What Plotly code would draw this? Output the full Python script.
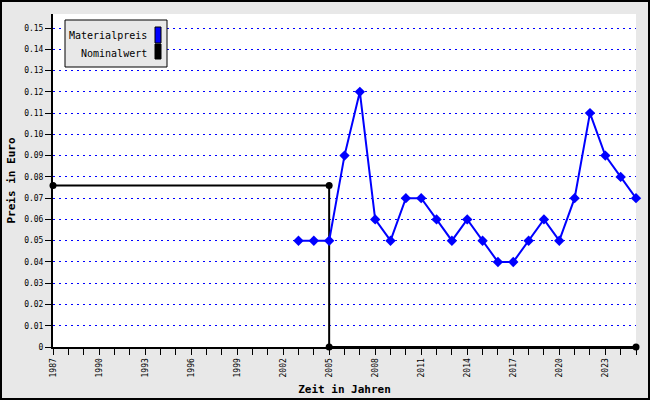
import plotly.graph_objects as go

years_mat = [2003, 2004, 2005, 2006, 2007, 2008, 2009, 2010, 2011, 2012, 2013, 2014,
             2015, 2016, 2017, 2018, 2019, 2020, 2021, 2022, 2023, 2024, 2025]
preis_mat = [0.05, 0.05, 0.05, 0.09, 0.12, 0.06, 0.05, 0.07, 0.07, 0.06, 0.05, 0.06,
             0.05, 0.04, 0.04, 0.05, 0.06, 0.05, 0.07, 0.11, 0.09, 0.08, 0.07]
years_nom = [1987, 2005, 2005, 2025]
preis_nom = [0.076, 0.076, 0, 0]

x_ticks = list(range(1987, 2026))
x_labels = [str(y) if (y - 1987) % 3 == 0 else "" for y in x_ticks]
y_ticks = [round(i * 0.01, 2) for i in range(0, 16)]
y_labels = ["0"] + ["%.2f" % v for v in y_ticks[1:]]

W, H = 650, 400
L, R, T, B = 53, 14, 14, 53
PW, PH = W - L - R, H - T - B

def px(x):
    return (x - L) / PW

def py(y):
    return (H - B - y) / PH

mono = "DejaVu Sans Mono"

fig = go.Figure()
fig.add_trace(go.Scatter(x=years_nom, y=preis_nom, mode="lines+markers", name="Nominalwert",
                         line=dict(color="black", width=2),
                         marker=dict(symbol="circle", size=7, color="black"),
                         cliponaxis=False))
fig.add_trace(go.Scatter(x=years_mat, y=preis_mat, mode="lines+markers", name="Materialpreis",
                         line=dict(color="#0000ff", width=2),
                         marker=dict(symbol="diamond", size=8, color="#0000ff"),
                         cliponaxis=False))

shapes = [
    dict(type="rect", xref="paper", yref="paper", x0=px(1), x1=px(649), y0=py(1), y1=py(399),
         line=dict(color="black", width=2), fillcolor="rgba(0,0,0,0)", layer="above"),
    dict(type="rect", xref="paper", yref="paper", x0=px(65), x1=px(167), y0=py(20), y1=py(67),
         line=dict(color="black", width=1), fillcolor="#e8e8e8", layer="above"),
    dict(type="rect", xref="paper", yref="paper", x0=px(155), x1=px(161), y0=py(27), y1=py(43),
         line=dict(color="black", width=1), fillcolor="#0000ff", layer="above"),
    dict(type="rect", xref="paper", yref="paper", x0=px(155), x1=px(161), y0=py(44), y1=py(59),
         line=dict(color="black", width=1), fillcolor="black", layer="above"),
]
annotations = [
    dict(text="Materialpreis", xref="paper", yref="paper", x=px(149), y=py(36),
         xanchor="right", yanchor="middle", showarrow=False,
         font=dict(family=mono, size=10, color="black")),
    dict(text="Nominalwert", xref="paper", yref="paper", x=px(149), y=py(53),
         xanchor="right", yanchor="middle", showarrow=False,
         font=dict(family=mono, size=10, color="black")),
]

fig.update_layout(
    width=W, height=H,
    margin=dict(l=L, r=R, t=T, b=B, pad=0),
    paper_bgcolor="#e8e8e8",
    plot_bgcolor="white",
    showlegend=False,
    shapes=shapes,
    annotations=annotations,
    xaxis=dict(range=[1987, 2025], tickmode="array", tickvals=x_ticks, ticktext=x_labels,
               tickangle=-90, ticks="outside", ticklen=6, tickwidth=1, tickcolor="black",
               showline=True, linecolor="black", linewidth=2, showgrid=False, zeroline=False,
               automargin=False,
               tickfont=dict(family=mono, size=8, color="black"),
               title=dict(text="<b>Zeit in Jahren</b>", font=dict(family=mono, size=11, color="black"),
                          standoff=9)),
    yaxis=dict(range=[0, 0.1566], tickmode="array", tickvals=y_ticks, ticktext=y_labels,
               ticks="outside", ticklen=6, tickwidth=1, tickcolor="black",
               showline=True, linecolor="black", linewidth=2, automargin=False,
               showgrid=True, gridcolor="#0000ff", griddash="2px,4px", gridwidth=1, zeroline=False,
               tickfont=dict(family=mono, size=8, color="black"),
               title=dict(text="<b>Preis in Euro</b>", font=dict(family=mono, size=11, color="black"),
                          standoff=6)),
)

fig.write_html("out.html", config={"displayModeBar": False})
with open("out.html", encoding="utf-8") as f:
    html = f.read()
html = html.replace("<body>", '<body style="margin:0;padding:0;overflow:hidden">', 1)
with open("out.html", "w", encoding="utf-8") as f:
    f.write(html)
